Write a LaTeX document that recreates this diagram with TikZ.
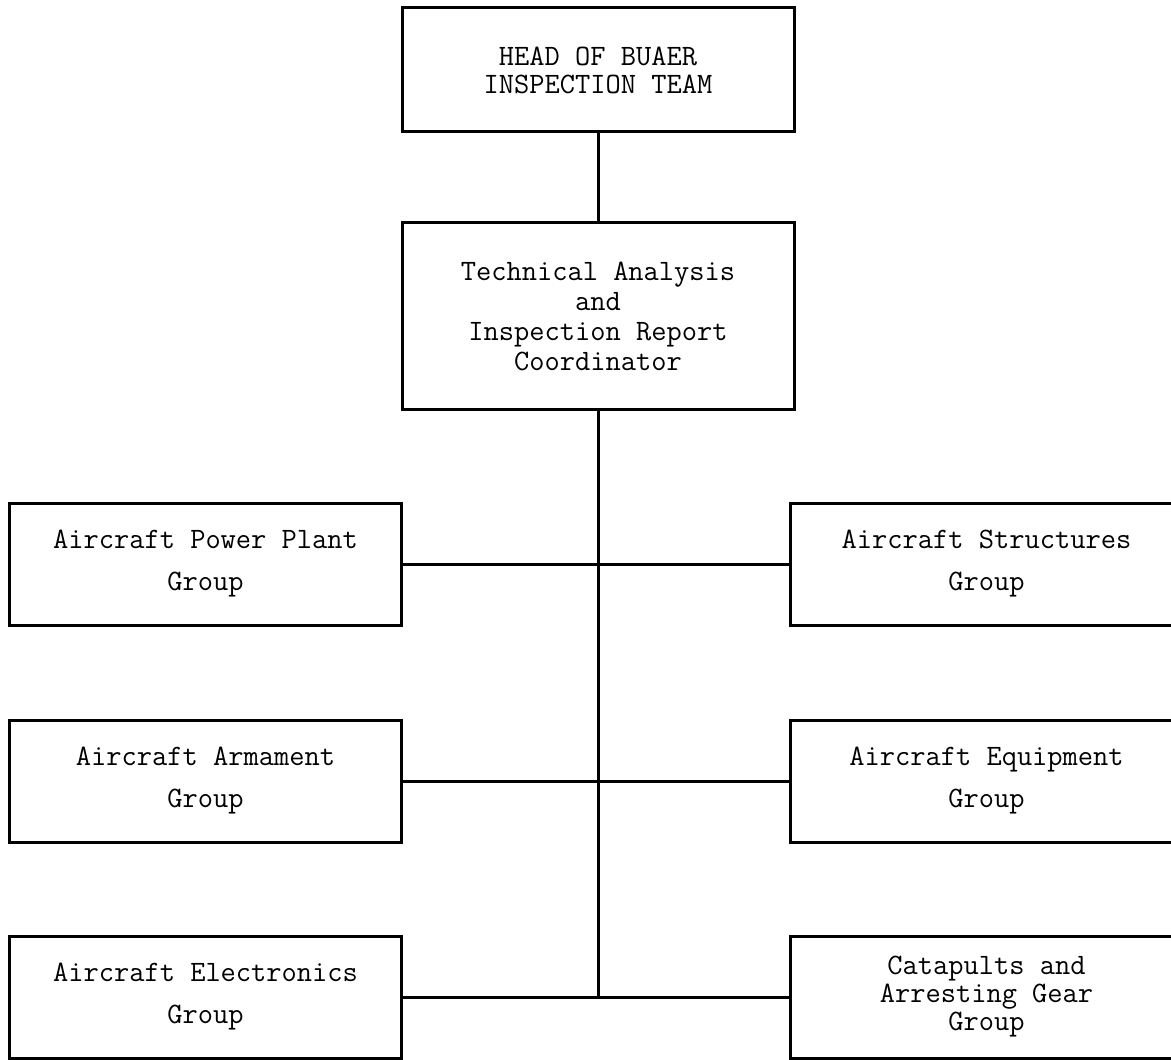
\documentclass[tikz,border=0pt]{standalone}
\usepackage{fontspec}
\usepackage{tikz}

\begin{document}
\begin{tikzpicture}[x=0.5pt, y=-0.5pt, line width=1.5pt,
	box/.style={draw, rectangle, inner sep=0pt, align=center, minimum width=196pt},
	grp/.style={box, minimum height=61pt, font=\fontsize{14.8}{21}\ttfamily}]
	\useasboundingbox (0,0) rectangle (1171,1059);
	\clip (0,0) rectangle (1171,1059);
	\node[box, minimum height=62pt, font=\fontsize{14.8}{14}\ttfamily] (head) at (598,70) {HEAD OF BUAER\\INSPECTION TEAM};
	\node[box, minimum height=93pt, font=\fontsize{14.8}{15}\ttfamily] (coord) at (598,316) {Technical Analysis\\and\\Inspection Report\\Coordinator};
	\node[grp] (power) at (205.5,564) {Aircraft Power Plant\\Group};
	\node[grp] (arm) at (205.5,781) {Aircraft Armament\\Group};
	\node[grp] (elec) at (205.5,997) {Aircraft Electronics\\Group};
	\node[grp] (struct) at (986.5,564) {Aircraft Structures\\Group};
	\node[grp] (equip) at (986.5,781) {Aircraft Equipment\\Group};
	\node[grp, font=\fontsize{14.8}{14}\ttfamily] (cat) at (986.5,997) {Catapults and\\Arresting Gear\\Group};
	\draw (head) -- (coord);
	\draw (coord.south) -- (coord.south |- elec.east);
	\draw (power) -- (struct);
	\draw (arm) -- (equip);
	\draw (elec) -- (cat);
\end{tikzpicture}
\end{document}
